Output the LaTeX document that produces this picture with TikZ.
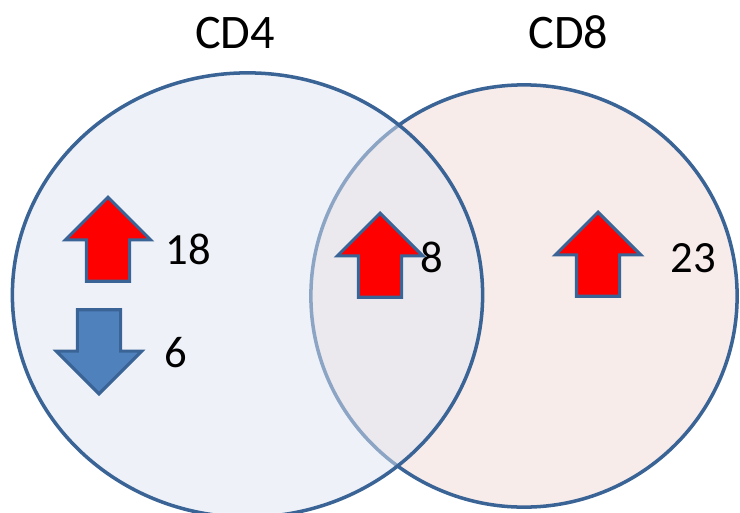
\documentclass[tikz,border=0pt]{standalone}
\usepackage{fontspec}
\setmainfont{Carlito}
\usepackage{tikz}
\usetikzlibrary{shapes.geometric,shapes.arrows}
\usepackage{xcolor}
\definecolor{setline}{HTML}{3B6496}
\definecolor{cdfourbg}{HTML}{DFE7F3}
\definecolor{cdeightbg}{HTML}{F8ECEA}
\definecolor{upred}{HTML}{FF0000}
\definecolor{downblue}{HTML}{4F81BD}
\tikzset{
  vennset/.style={ellipse,draw=setline,line width=1pt,inner sep=0pt},
  regarrow/.style={single arrow,draw=setline,line width=0.9pt,inner xsep=0pt,
    inner ysep=0.2cm,minimum height=0.84cm,single arrow head extend=0.21cm,
    single arrow tip angle=90,anchor=tip},
  upreg/.style={regarrow,fill=upred,rotate=90},
  downreg/.style={regarrow,fill=downblue,rotate=-90},
  setlabel/.style={font=\fontsize{13.7}{16}\selectfont,anchor=base,inner sep=0pt},
  countlabel/.style={font=\fontsize{12.7}{15}\selectfont,anchor=base west,inner sep=0pt},
}

\begin{document}
\begin{tikzpicture}[x=0.01cm,y=-0.01cm]
  \fill[white] (0,0) rectangle (740,512);
  \useasboundingbox (0,0) rectangle (740,512);
  % the two sets, CD4 on top and see-through
  \node[vennset,fill=cdeightbg,minimum width=4.26cm,minimum height=4.22cm] (cdeight) at (524,296) {};
  \node[vennset,fill=cdfourbg,fill opacity=0.5,draw opacity=1,minimum width=4.7cm,minimum height=4.44cm] (cdfour) at (247.5,295) {};
  \node[setlabel] (cdfourlbl) at (235,48) {CD4};
  \node[setlabel] (cdeightlbl) at (568.5,48) {CD8};
  % regulation arrows
  \node[upreg] (upfour) at (108,195) {};
  \node[downreg] (downfour) at (99,396) {};
  \node[upreg] (upboth) at (380,211) {};
  \node[upreg] (upeight) at (598,210) {};
  \node[countlabel] (nupfour) at (165,264) {18};
  \node[countlabel] (ndownfour) at (164,367) {6};
  \node[countlabel] (nupboth) at (420,272) {8};
  \node[countlabel] (nupeight) at (670,272) {23};
\end{tikzpicture}
\end{document}
